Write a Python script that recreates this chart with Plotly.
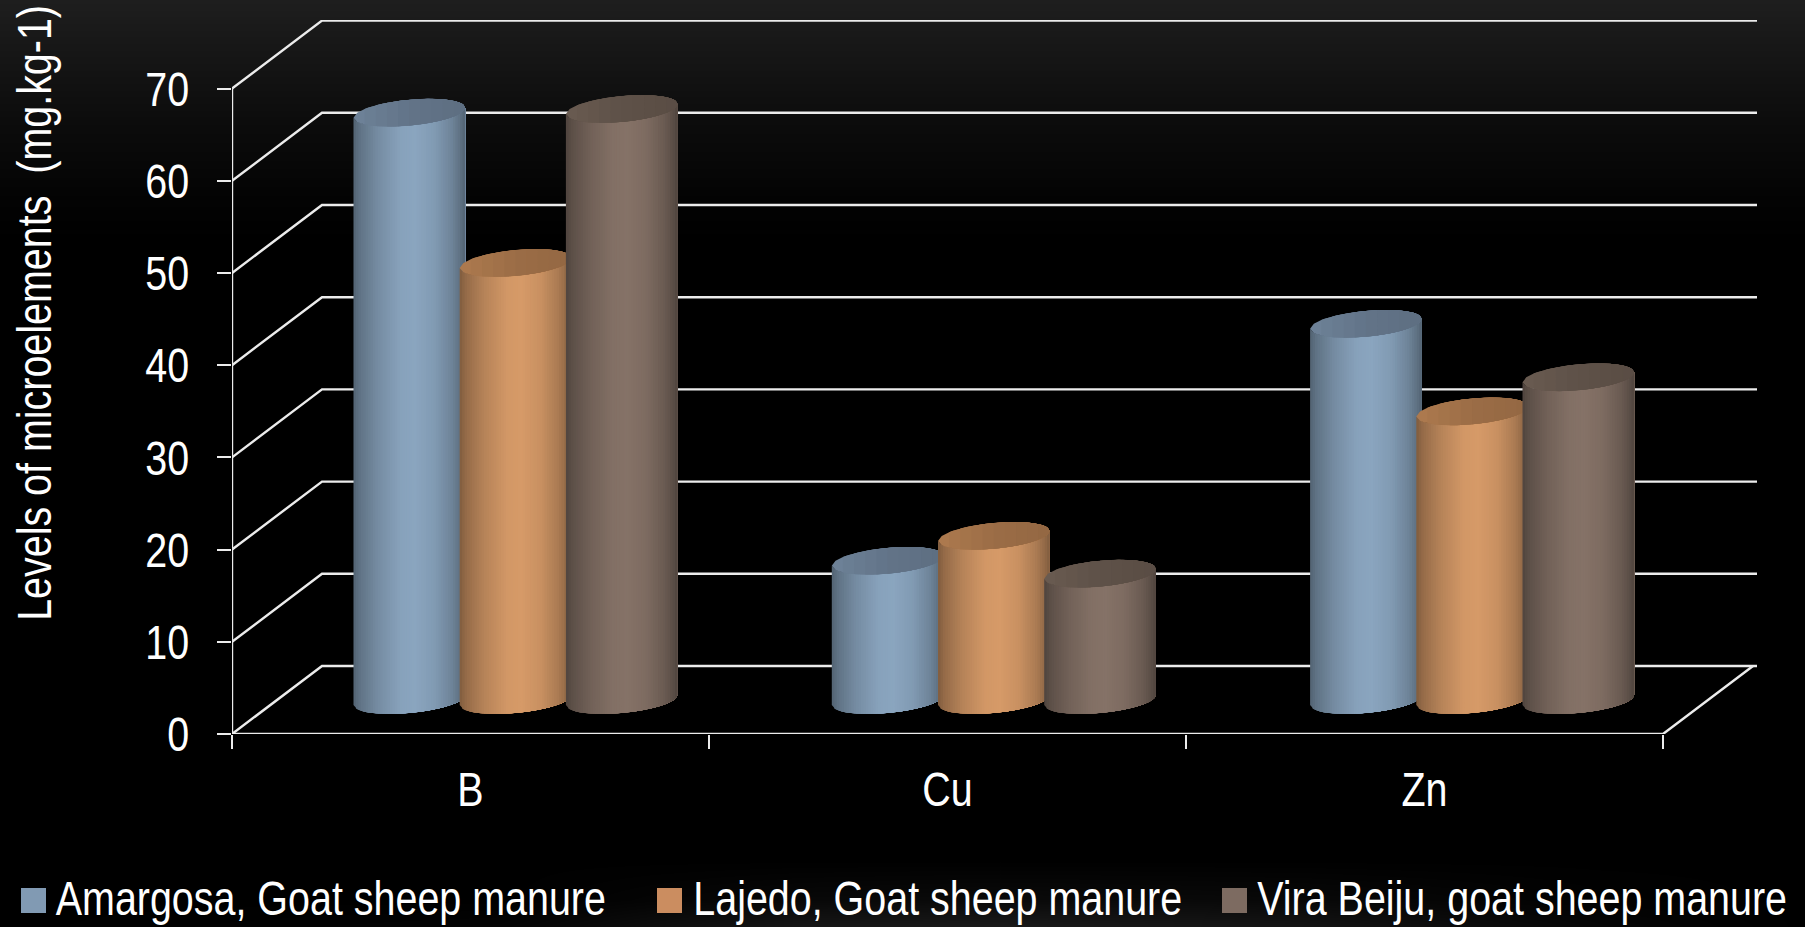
import math
import plotly.graph_objects as go

# Microelement levels per site, in mg.kg-1
categories = ["B", "Cu", "Zn"]
series_names = ["Amargosa, Goat sheep manure", "Lajedo, Goat sheep manure", "Vira Beiju, goat sheep manure"]
amargosa = [63.7, 15.1, 40.8]
lajedo = [47.4, 17.8, 31.3]
vira_beiju = [64.1, 13.7, 35.0]
y_ticks = [0, 10, 20, 30, 40, 50, 60, 70]

# Body colour at the brightest line of each cylinder, and its top-cap colours
body_colours = [(138, 165, 191), (214, 154, 104), (133, 114, 103)]
cap_colours = [(98, 116, 136), (155, 109, 70), (94, 81, 72)]
swatch_colours = ["#819AB3", "#CB8D60", "#7D6B61"]

FONT = "Liberation Sans, Arial, sans-serif"
TEXT = "#ffffff"
LINE = "#ececec"

W, H = 1805, 927
# Pixel scale of the front plane of the chart box
LEFT, BASE, TOP, RIGHT = 232, 734, 20, 1757
PX_PER_CAT = 477.0
PX_PER_VAL = 9.22
DEPTH_X = 90 / PX_PER_CAT
DEPTH_Y = 68 / PX_PER_VAL
X_MAX = (RIGHT - LEFT) / PX_PER_CAT
Y_MAX = (BASE - TOP) / PX_PER_VAL

# Cylinder geometry, in axis units
RADIUS = 55.8 / PX_PER_CAT
SPACING = 106.2 / PX_PER_CAT
GROUP_PITCH = 478.3 / PX_PER_CAT
CAP_TILT = 5.0 / PX_PER_VAL
CAP_HALF = 12.9 / PX_PER_VAL

# Brightness across a cylinder, left edge to right edge
SHADE = [(0.0, 0.60), (0.06, 0.70), (0.22, 0.85), (0.42, 0.98), (0.55, 1.0),
         (0.72, 0.94), (0.88, 0.80), (0.96, 0.68), (1.0, 0.60)]
CAP_SHADE = [(0.0, 1.12), (0.5, 1.0), (1.0, 0.95)]


def shade_at(profile, f):
    for (f0, s0), (f1, s1) in zip(profile, profile[1:]):
        if f <= f1:
            return s0 + (s1 - s0) * (f - f0) / (f1 - f0)
    return profile[-1][1]


def rgb(colour, k):
    return "rgb({},{},{})".format(*[min(255, round(c * k)) for c in colour])


def arc(cx, cy, start, stop, lower, n=30):
    """Points along the front (lower) or back (upper) edge of a tilted cap."""
    pts = []
    for i in range(n + 1):
        f = start + (stop - start) * i / n
        u = 2 * f - 1
        r = math.sqrt(max(0.0, 1 - u * u))
        side = -1 if lower else 1
        pts.append((cx + RADIUS * u, cy + CAP_TILT * u + side * CAP_HALF * r))
    return pts


fig = go.Figure()

# Backdrop: dark grey fading to black, with a faint glow along the bottom edge
bg_x = [0, 500, 800, 1000, 1300, 1600, 1805]
bg_y = [0, 60, 120, 200, 240, 860, 900, 927]
bg_z = [[30] * 7, [21] * 7, [12] * 7, [3] * 7, [0] * 7, [0] * 7,
        [0, 0, 8, 10, 8, 2, 0], [0, 4, 22, 26, 20, 6, 0]]
fig.add_trace(go.Heatmap(x=bg_x, y=bg_y, z=bg_z, zmin=0, zmax=255, zsmooth="best",
                         colorscale=[[0, "#000000"], [1, "#ffffff"]], showscale=False,
                         hoverinfo="skip", xaxis="x", yaxis="y"))

# Back wall, side wall and floor lines
wall_x, wall_y = [], []
for v in y_ticks:
    wall_x += [0, DEPTH_X, X_MAX, None]
    wall_y += [v, v + DEPTH_Y, v + DEPTH_Y, None]
wall_x += [0, 0, None, 0, len(categories), len(categories) + DEPTH_X, None]
wall_y += [0, y_ticks[-1], None, 0, 0, DEPTH_Y, None]
fig.add_trace(go.Scatter(x=wall_x, y=wall_y, mode="lines", cliponaxis=False,
                         line=dict(color=LINE, width=2.4), hoverinfo="skip", showlegend=False,
                         xaxis="x2", yaxis="y2"))

# Cylinders: each band overpaints the rest of the body to the right, which gives a smooth shading
BANDS = 46
CAP_BANDS = 10
for s, values in enumerate([amargosa, lajedo, vira_beiju]):
    for b in range(BANDS):
        f0 = b / BANDS
        xs, ys = [], []
        for c, v in enumerate(values):
            cx = c * GROUP_PITCH + 0.5 + DEPTH_X / 2 + (s - 1) * SPACING
            base = DEPTH_Y / 2
            top = arc(cx, v + base, f0, 1, True)
            bottom = arc(cx, base, f0, 1, True)[::-1]
            pts = top + bottom
            xs += [p[0] for p in pts] + [pts[0][0], None]
            ys += [p[1] for p in pts] + [pts[0][1], None]
        fig.add_trace(go.Scatter(x=xs, y=ys, mode="lines", fill="toself",
                                 fillcolor=rgb(body_colours[s], shade_at(SHADE, f0 + 0.5 / BANDS)),
                                 line=dict(width=0), hoverinfo="skip", showlegend=False,
                                 name=series_names[s], xaxis="x2", yaxis="y2"))
    for b in range(CAP_BANDS):
        f0 = b / CAP_BANDS
        xs, ys = [], []
        for c, v in enumerate(values):
            cx = c * GROUP_PITCH + 0.5 + DEPTH_X / 2 + (s - 1) * SPACING
            base = DEPTH_Y / 2
            pts = arc(cx, v + base, f0, 1, True) + arc(cx, v + base, f0, 1, False)[::-1]
            xs += [p[0] for p in pts] + [pts[0][0], None]
            ys += [p[1] for p in pts] + [pts[0][1], None]
        fig.add_trace(go.Scatter(x=xs, y=ys, mode="lines", fill="toself",
                                 fillcolor=rgb(cap_colours[s], shade_at(CAP_SHADE, f0 + 0.5 / CAP_BANDS)),
                                 line=dict(width=0), hoverinfo="skip", showlegend=False,
                                 name=series_names[s], xaxis="x2", yaxis="y2"))

# Category names sit between the ticks, so they live on a second axis over the same range
centres = [i + 0.5 for i in range(len(categories))]
fig.add_trace(go.Scatter(x=centres, y=[0] * len(centres), mode="markers", opacity=0,
                         hoverinfo="skip", showlegend=False, xaxis="x3", yaxis="y2"))

annotations = [dict(text="Levels of microelements  (mg.kg-1)", xref="paper", yref="paper",
                    x=34.5 / W, y=1 - 313 / H, textangle=-90, showarrow=False,
                    xanchor="center", yanchor="middle",
                    font=dict(family=FONT, size=49, color=TEXT))]
shapes = []
legend_swatch_x = [21, 657, 1222]
legend_text_centre = [331, 938, 1522]
for name, colour, sx, tx in zip(series_names, swatch_colours, legend_swatch_x, legend_text_centre):
    shapes.append(dict(type="rect", xref="paper", yref="paper", x0=sx / W, x1=(sx + 25) / W,
                       y0=1 - 913 / H, y1=1 - 888 / H, fillcolor=colour, line=dict(width=0)))
    annotations.append(dict(text=name, xref="paper", yref="paper", x=tx / W, y=1 - 898 / H,
                            xanchor="center", yanchor="middle", showarrow=False,
                            font=dict(family=FONT, size=49, color=TEXT)))

fig.update_layout(
    width=W, height=H, margin=dict(l=0, r=0, t=0, b=0), autosize=False,
    paper_bgcolor="#000000", plot_bgcolor="rgba(0,0,0,0)", showlegend=False,
    font=dict(family=FONT, color=TEXT),
    shapes=shapes, annotations=annotations,
    xaxis=dict(domain=[0, 1], range=[0, W], visible=False, fixedrange=True, automargin=False),
    yaxis=dict(domain=[0, 1], range=[H, 0], visible=False, fixedrange=True, automargin=False),
    xaxis2=dict(domain=[LEFT / W, RIGHT / W], range=[0, X_MAX], anchor="y2", automargin=False,
                tickmode="array", tickvals=list(range(len(categories) + 1)),
                ticktext=[""] * (len(categories) + 1), ticks="outside", ticklen=14,
                tickwidth=2, tickcolor=LINE, showgrid=False, zeroline=False, showline=False),
    yaxis2=dict(domain=[1 - BASE / H, 1 - TOP / H], range=[0, Y_MAX], anchor="x2", automargin=False,
                tickmode="array", tickvals=y_ticks, ticks="outside", ticklen=14,
                tickwidth=2, tickcolor=LINE, showgrid=False, zeroline=False, showline=False,
                ticklabelstandoff=18, tickfont=dict(family=FONT, size=49, color=TEXT)),
    xaxis3=dict(domain=[LEFT / W, RIGHT / W], range=[0, X_MAX], anchor="y2", overlaying="x2",
                automargin=False, tickmode="array", tickvals=centres, ticktext=categories, ticks="",
                showgrid=False, zeroline=False, showline=False, ticklabelstandoff=22,
                tickfont=dict(family=FONT, size=49, color=TEXT)),
)

# The labels use a condensed setting: every text is squeezed sideways about its anchor point
condense = """
var gd = document.getElementById('{plot_id}');
gd.querySelectorAll('svg text').forEach(function (t) {
  if (!t.textContent.trim()) { return; }
  var factor = t.closest('.ytick') ? 0.74 : 0.805;
  var x = parseFloat(t.getAttribute('x')) || 0;
  var kept = t.getAttribute('transform') || '';
  t.setAttribute('transform', kept + ' translate(' + x + ',0) scale(' + factor + ',1) translate(' + (-x) + ',0)');
});
"""
fig.write_html("out.html", post_script=condense)
